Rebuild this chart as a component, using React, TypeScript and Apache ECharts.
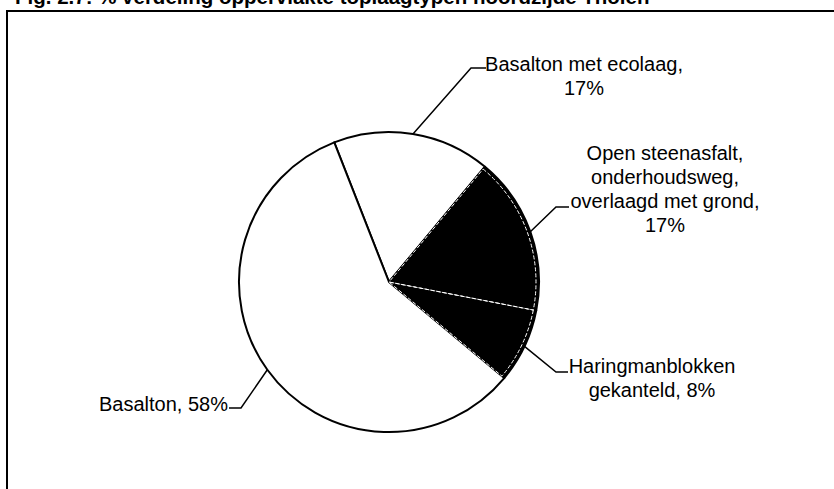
import React, { useEffect, useRef } from "react";
import * as echarts from "echarts";

const titleText = "Fig. 2.7: % verdeling oppervlakte toplaagtypen noordzijde Tholen";
const categories = [
  "Basalton met ecolaag",
  "Open steenasfalt, onderhoudsweg, overlaagd met grond",
  "Haringmanblokken gekanteld",
  "Basalton",
];
const values = [17, 17, 8, 58];
const labelTexts = [
  "Basalton met ecolaag,\n17%",
  "Open steenasfalt,\nonderhoudsweg,\noverlaagd met grond,\n17%",
  "Haringmanblokken\ngekanteld, 8%",
  "Basalton, 58%",
];
const fills = ["#ffffff", "#000000", "#000000", "#ffffff"];

// label anchor layout and leader bend/end points
const labelAnchors = [
  { x: 584, y: 76, align: "center", bend: [471, 68], end: [486, 68] },
  { x: 665, y: 189, align: "center", bend: [556, 207], end: [569, 207] },
  { x: 652, y: 378, align: "center", bend: [556, 372], end: [568, 372] },
  { x: 228, y: 404, align: "right", bend: [241, 408], end: [229, 408] },
];

export default function App() {
  const ref = useRef<HTMLDivElement>(null);
  useEffect(() => {
    if (!ref.current) return;
    const chart = echarts.init(ref.current, null, { renderer: "svg" });
    const center = [389, 282];
    chart.setOption({
      animation: false,
      backgroundColor: "#ffffff",
      graphic: [
        {
          type: "text",
          left: 15,
          top: -14,
          style: {
            text: titleText,
            fill: "#000",
            font: "bold 20.5px 'Liberation Sans', Arial, sans-serif",
          },
          z: 10,
        },
        {
          type: "rect",
          shape: { x: 7, y: 11, width: 900, height: 600 },
          style: { fill: "none", stroke: "#000", lineWidth: 2 },
          z: 10,
        },
      ],
      series: [
        {
          type: "pie",
          center,
          radius: 150,
          startAngle: 111.4,
          clockwise: true,
          silent: true,
          emphasis: { disabled: true },
          itemStyle: { borderColor: "#000", borderWidth: 2 },
          label: {
            show: true,
            position: "outside",
            color: "#000",
            fontFamily: "'Liberation Sans', Arial, sans-serif",
            fontSize: 20,
            lineHeight: 24,
            formatter: (p: any) => labelTexts[p.dataIndex],
          },
          labelLine: {
            show: true,
            lineStyle: { color: "#000", width: 1.5 },
          },
          labelLayout: (params: any) => {
            const a = labelAnchors[params.dataIndex];
            const start = params.labelLinePoints
              ? params.labelLinePoints[0]
              : center;
            return {
              x: a.x,
              y: a.y,
              align: a.align,
              verticalAlign: "middle",
              labelLinePoints: [start, a.bend, a.end],
            };
          },
          data: categories.map((name, i) => ({
            name,
            value: values[i],
            itemStyle: { color: fills[i] },
          })),
        },
        {
          type: "pie",
          center,
          radius: 147,
          startAngle: 111.4,
          clockwise: true,
          silent: true,
          z: 3,
          emphasis: { disabled: true },
          label: { show: false },
          labelLine: { show: false },
          data: categories.map((name, i) => ({
            name,
            value: values[i],
            itemStyle:
              fills[i] === "#000000"
                ? {
                    color: "transparent",
                    borderColor: "#ffffff",
                    borderWidth: 1,
                    borderType: "dashed",
                  }
                : { color: "transparent", borderWidth: 0 },
          })),
        },
      ],
    });
    return () => chart.dispose();
  }, []);
  return (
    <div
      ref={ref}
      style={{ position: "absolute", left: 0, top: 0, width: 834, height: 489 }}
    />
  );
}
